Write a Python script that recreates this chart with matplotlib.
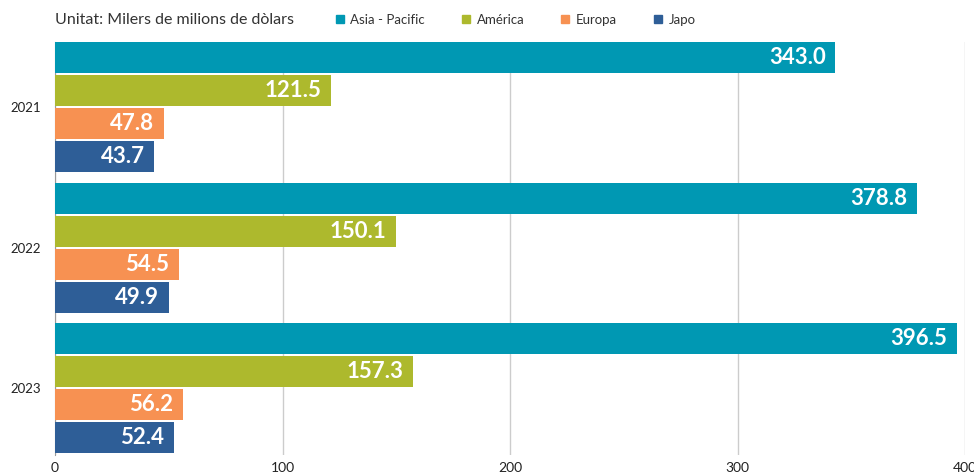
import matplotlib
matplotlib.use("Agg")
import matplotlib.pyplot as plt
from matplotlib.lines import Line2D
import numpy as np

plt.rcParams["font.family"] = ["Lato", "DejaVu Sans"]

years = ["2021", "2022", "2023"]
series = ["Asia - Pacific", "América", "Europa", "Japo"]
asia_pacific = [343.0, 378.8, 396.5]
america = [121.5, 150.1, 157.3]
europa = [47.8, 54.5, 56.2]
japo = [43.7, 49.9, 52.4]
colors = ["#0098b3", "#adb92d", "#f79152", "#2e5e97"]

values = [asia_pacific, america, europa, japo]

W, H = 974, 472
fig = plt.figure(figsize=(W / 100, H / 100), dpi=100)
ax = fig.add_axes([55 / W, 1 - 455 / H, (965 - 55) / W, (455 - 42) / H])

pitch = 33 / 140.5
height = 31 / 140.5
pos = np.arange(len(years))
for k, (name, vals, col) in enumerate(zip(series, values, colors)):
    y = pos + (k - 1.5) * pitch
    ax.barh(y, vals, height=height, color=col, zorder=3)
    for yy, v in zip(y, vals):
        ax.annotate(f"{v:.1f}", (v, yy), xytext=(-7, 0), textcoords="offset points",
                    ha="right", va="center", color="white", fontsize=16,
                    fontweight="bold", zorder=4)

ax.set_xlim(0, 400)
ax.set_ylim(2.477, -0.463)
ax.set_xticks([0, 100, 200, 300, 400])
ax.set_yticks(pos)
ax.set_yticklabels(years)
ax.tick_params(axis="both", length=0, labelsize=10, colors="#222222")
ax.tick_params(axis="y", pad=10, labelsize=9.5)
ax.tick_params(axis="x", pad=5)
ax.grid(axis="x", color="#cccccc", linewidth=1, zorder=0)
for s in ["top", "right", "bottom"]:
    ax.spines[s].set_visible(False)
ax.spines["left"].set_color("#999999")

fig.text(55 / W, 1 - 20 / H, "Unitat: Milers de milions de dòlars", fontsize=11.5,
         color="#333333", va="center", ha="left")

handles = [Line2D([], [], marker="s", linestyle="none", markersize=6, color=c) for c in colors]
fig.legend(handles, series, loc="center left", bbox_to_anchor=(328 / W, 1 - 20 / H),
           ncol=4, frameon=False, fontsize=9.5, handletextpad=0.3, columnspacing=2.6,
           handlelength=1, borderaxespad=0, labelcolor="#333333")

fig.savefig("out.png", dpi=100)
